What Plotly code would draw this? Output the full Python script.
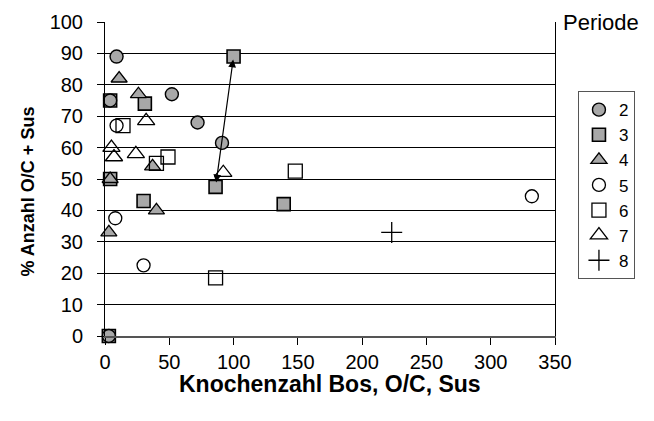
import plotly.graph_objects as go

# Periode series (x = Knochenzahl Bos, O/C, Sus ; y = % Anzahl O/C + Sus)
p2_x = [9, 52, 72, 91, 4, 3]
p2_y = [89, 77, 68, 61.5, 75, 0]
p3_x = [100, 31, 86, 30, 139, 4, 4, 3]
p3_y = [89, 74, 47.5, 43, 42, 75, 50, 0]
p4_x = [11, 26, 37, 40, 4, 3]
p4_y = [82, 77, 54, 40, 50, 33]
p5_x = [8, 30, 9, 332]
p5_y = [37.5, 22.5, 67, 44.5]
p6_x = [14, 49, 40, 86, 148]
p6_y = [67, 57, 55, 18.5, 52.5]
p7_x = [32, 5, 7, 24, 92]
p7_y = [68.5, 60, 57, 58, 52]
p8_x = [223]
p8_y = [33]

x_ticks = [0, 50, 100, 150, 200, 250, 300, 350]
y_ticks = [0, 10, 20, 30, 40, 50, 60, 70, 80, 90, 100]

FONT = "Liberation Sans, Arial, sans-serif"
HATCH = "#a8a8a8"

fig = go.Figure()

def add(name, xs, ys, symbol, fill, lw, size, rank):
    fig.add_trace(go.Scatter(
        x=xs, y=ys, mode="markers", name=name, legendrank=rank,
        cliponaxis=False,
        marker=dict(symbol=symbol, size=size, color=fill,
                    line=dict(color="black", width=lw)),
    ))

add("3", p3_x, p3_y, "square", HATCH, 1.6, 13, 2)
add("2", p2_x, p2_y, "circle", HATCH, 1.4, 13, 1)
add("4", p4_x, p4_y, "triangle-up", HATCH, 1.3, 14, 3)
add("5", p5_x, p5_y, "circle", "white", 1.3, 13, 4)
add("6", p6_x, p6_y, "square", "rgba(0,0,0,0)", 1.3, 14, 5)
add("7", p7_x, p7_y, "triangle-up", "rgba(0,0,0,0)", 1.3, 15, 6)
add("8", p8_x, p8_y, "cross-thin", "black", 1.3, 15, 7)

# double-headed arrow between two Periode-3 points
fig.add_annotation(
    x=p3_x[0], y=p3_y[0], ax=p3_x[2], ay=p3_y[2],
    xref="x", yref="y", axref="x", ayref="y",
    showarrow=True, arrowside="end+start", arrowhead=2, startarrowhead=2,
    arrowsize=1.3, startarrowsize=1.3, arrowwidth=1.2, arrowcolor="black",
    standoff=3, startstandoff=3, text="",
)

fig.add_annotation(
    x=1.0133, y=1.0, xref="paper", yref="paper", xanchor="left", yanchor="middle",
    text="Periode", showarrow=False, font=dict(family=FONT, size=22, color="black"),
)
# axis titles
fig.add_annotation(
    x=0.5, y=-0.153, xref="paper", yref="paper", xanchor="center", yanchor="middle",
    text="<b>Knochenzahl Bos, O/C, Sus</b>", showarrow=False,
    font=dict(family=FONT, size=23, color="black"),
)
fig.add_annotation(
    x=-0.172, y=0.459, xref="paper", yref="paper", xanchor="center", yanchor="middle",
    text="<b>% Anzahl O/C + Sus</b>", showarrow=False, textangle=-90,
    font=dict(family=FONT, size=18, color="black"),
)

fig.update_layout(
    template="none",
    width=654, height=421,
    margin=dict(l=97, r=107, t=14, b=93, autoexpand=False),
    paper_bgcolor="white", plot_bgcolor="white",
    font=dict(family=FONT, size=20, color="black"),
    showlegend=True,
    legend=dict(x=1.051, y=0.78, xanchor="left", yanchor="top",
                bordercolor="#555", borderwidth=1, bgcolor="white",
                font=dict(family=FONT, size=17), itemwidth=30,
                tracegroupgap=0),
)
fig.update_xaxes(
    range=[0, 350], tickmode="array", tickvals=x_ticks, showgrid=False, zeroline=False,
    showline=True, linecolor="#555", linewidth=2, mirror=False, automargin=False,
    ticks="outside", ticklen=7, tickcolor="black", ticklabelstandoff=0,
    tickfont=dict(family=FONT, size=20),
)
fig.update_yaxes(
    range=[0, 100], tickmode="array", tickvals=y_ticks, showgrid=True,
    gridcolor="black", gridwidth=1, automargin=False,
    zeroline=False, showline=True, linecolor="black", linewidth=1, mirror=True,
    ticks="outside", ticklen=7, tickcolor="black", ticklabelstandoff=10,
    tickfont=dict(family=FONT, size=20),
)

fig.write_html("out.html")
